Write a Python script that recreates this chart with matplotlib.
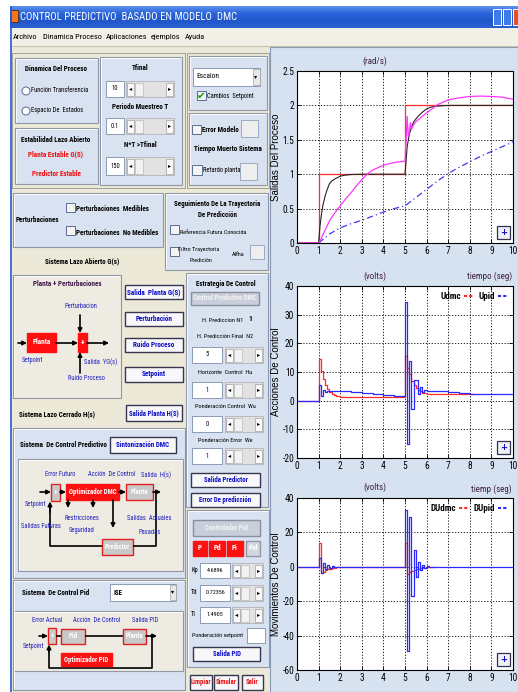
import os
import numpy as np
import matplotlib
matplotlib.use('Agg')
import matplotlib.pyplot as plt
from matplotlib.patches import Rectangle, Circle
from matplotlib.lines import Line2D
from matplotlib.colors import LinearSegmentedColormap
from matplotlib.font_manager import FontProperties, fontManager
from matplotlib.textpath import TextPath

plt.rcParams['axes.unicode_minus'] = False

# ---------------- data ----------------
x_ticks = [0, 1, 2, 3, 4, 5, 6, 7, 8, 9, 10]
y1_ticks = [0, 0.5, 1, 1.5, 2, 2.5]
y1_labels = ['0', '0.5', '1', '1.5', '2', '2.5']
y2_ticks = [-20, -10, 0, 10, 20, 30, 40]
y3_ticks = [-60, -40, -20, 0, 20, 40]

# plot 1: process outputs
t_ref = [0, 1, 1, 5, 5, 10]
y_ref = [0, 0, 1, 1, 2, 2]
t_dmc = [0, 1.0, 1.05, 1.1, 1.15, 1.2, 1.3, 1.4, 1.5, 1.6, 1.8, 2.0, 2.2, 2.5, 3.0,
         5.0, 5.05, 5.1, 5.2, 5.3, 5.4, 5.5, 5.6, 5.8, 6.0, 6.2, 6.5, 7.0, 10.0]
y_dmc = [0, 0, 0.2, 0.34, 0.45, 0.55, 0.68, 0.78, 0.86, 0.9, 0.94, 0.97, 0.985, 0.995, 1.0,
         1.0, 1.2, 1.4, 1.58, 1.68, 1.76, 1.8, 1.84, 1.9, 1.95, 1.975, 1.99, 2.0, 2.0]
t_pid = [0, 1.0, 1.1, 1.2, 1.35, 1.5, 1.75, 2.0, 2.25, 2.5, 2.75, 3.0, 3.25, 3.5, 4.0, 4.5,
         5.0, 5.05, 5.1, 5.15, 5.2, 5.25, 5.3, 5.4, 5.5, 5.75, 6.0, 6.5, 7.0, 7.5, 8.0,
         8.5, 9.0, 9.5, 10.0]
y_pid = [0, 0, 0.05, 0.12, 0.22, 0.32, 0.44, 0.54, 0.64, 0.73, 0.83, 0.92, 1.0, 1.06, 1.13,
         1.17, 1.19, 1.5, 1.84, 1.55, 1.6, 1.75, 1.65, 1.72, 1.76, 1.83, 1.89, 2.01, 2.08,
         2.11, 2.13, 2.135, 2.13, 2.12, 2.09]
t_ol = [1.0, 1.5, 2.0, 2.5, 3.0, 3.5, 4.0, 4.5, 5.0, 5.5, 6.0, 6.5, 7.0, 7.5, 8.0, 8.5,
        9.0, 9.5, 10.0]
y_ol = [0, 0.13, 0.22, 0.28, 0.33, 0.39, 0.45, 0.5, 0.54, 0.66, 0.78, 0.9, 1.01, 1.1,
        1.18, 1.26, 1.33, 1.4, 1.47]

# plot 2: control actions (stairs)
t_udmc = [0, 1.0, 1.1, 1.2, 1.3, 1.4, 1.5, 1.6, 1.7, 1.8, 2.0, 2.2, 5.0, 5.1, 5.2, 5.3,
          5.4, 5.5, 5.6, 5.7, 5.8, 6.0, 6.2, 8.2]
u_dmc = [0, 14.5, 10.5, 7.5, 5.5, 4.0, 3.0, 2.5, 2.0, 1.7, 1.4, 1.2, 15.5, 11.5, 9.3, 7.0,
         5.5, 4.5, 3.8, 3.2, 2.8, 2.5, 2.3, 2.3]
t_upid = [0, 1.0, 1.1, 1.2, 1.3, 1.4, 1.5, 1.6, 2.0, 2.5, 3.0, 3.5, 4.0, 4.5, 5.0, 5.1,
          5.2, 5.3, 5.4, 5.6, 5.7, 5.8, 5.9, 6.0, 6.5, 7.0, 7.5, 8.0, 8.5, 10.0]
u_pid = [0, 5.3, 1.8, 3.8, 3.0, 3.5, 3.2, 3.4, 3.2, 3.0, 2.6, 2.3, 1.9, 1.6, 34.5, -15.0,
         14.0, -3.0, 7.2, 2.5, 4.6, 3.0, 3.8, 3.5, 3.2, 2.9, 2.6, 2.4, 2.2, 2.2]

# plot 3: control moves (stairs)
t_dudmc = [0, 1.0, 1.1, 1.2, 1.3, 1.4, 1.5, 1.6, 1.7, 1.8, 2.0, 2.2, 5.0, 5.1, 5.2, 5.3,
           5.4, 5.5, 5.6, 5.7, 5.8, 6.0, 6.4]
du_dmc = [0, 14, -3.5, -2.8, -2.0, -1.5, -1.0, -0.8, -0.6, -0.4, -0.3, 0, 14, -4, -3,
          -2.3, -1.7, -1.3, -1.0, -0.7, -0.5, -0.3, 0]
t_dupid = [0, 1.0, 1.1, 1.2, 1.3, 1.4, 1.5, 1.6, 1.7, 1.8, 5.0, 5.1, 5.2, 5.3, 5.4, 5.5,
           5.6, 5.7, 5.8, 5.9, 6.0, 6.1, 6.2, 10.0]
du_pid = [0, 5, -3.5, 2.2, -1.2, 0.8, -0.5, 0.3, -0.2, 0, 33, -49, 29, -17, 10, -6, 3,
          -2, 1.2, -0.8, 0.5, -0.3, 0, 0]

menu_items = ['Archivo', 'Dinamica Proceso', 'Aplicaciones', 'ejemplos', 'Ayuda']


# ---------------- fonts (prefer a condensed sans face) ----------------
def pick_font(bold):
    order = ['Noto Sans ExtraCondensed', 'NotoSans-ExtraCondensed', 'Liberation Sans Narrow',
             'LiberationSansNarrow', 'Noto Sans Condensed', 'NotoSans-Condensed',
             'Roboto Condensed', 'RobotoCondensed', 'DejaVu Sans Condensed',
             'DejaVuSansCondensed', 'Condensed', 'Narrow']
    best = None
    for f in fontManager.ttflist:
        base = os.path.basename(f.fname)
        key = f.name + ' | ' + base + ' | ' + str(f.stretch)
        if 'Mono' in key or 'Serif' in key or 'CJK' in key or 'Italic' in base:
            continue
        if f.style != 'normal':
            continue
        w = f.weight if isinstance(f.weight, (int, float)) else (700 if 'bold' in str(f.weight) else 400)
        if bold and w != 700:
            continue
        if not bold and w != 400:
            continue
        if str(f.stretch) in ('condensed', 'extra-condensed', 'semi-condensed') and 'DejaVu' in f.name:
            key += ' DejaVu Sans Condensed'
        for i, k in enumerate(order):
            if k in key and 'SemiCondensed' not in key.replace(' ', ''):
                if best is None or i < best[0]:
                    best = (i, f.fname)
                break
    return best[1] if best else None


REG_FILE = pick_font(False)
BOLD_FILE = pick_font(True)


def fprop(bold=False, size=6):
    path = BOLD_FILE if bold else REG_FILE
    if path:
        return FontProperties(fname=path, size=size)
    return FontProperties(family='Liberation Sans', weight='bold' if bold else 'normal',
                          size=size)


def width_px(s, bold, size):
    tp = TextPath((0, 0), s, size=size, prop=fprop(bold, size))
    return tp.get_extents().width * 100 / 72


def fit(s, bold, px, maxsize):
    w = width_px(s, bold, maxsize)
    return min(maxsize, maxsize * px / w)


FB = fit('Dinamica Del Proceso', True, 62, 7.2) / 7.2
FR = fit('Función Transferencia', False, 57, 6.8) / 6.8
TICK_FS = fit('0.5', False, 11, 7.5)
MENU_FS = fit('Dinamica Proceso', False, 58, 8.5)

# ---------------- styles ----------------
W, H = 518, 692
WIN = '#ECE9D8'
PANEL = '#D8E2F0'
DIAG = '#EEEBE2'
PLOTBG = '#D6E2F0'
BTN_TXT = '#0A0AC8'
RED = '#FF1010'
GRAYBOX = '#C9C9C9'

fig = plt.figure(figsize=(W / 100, H / 100), dpi=100)
fig.patch.set_facecolor('white')
bg = fig.add_axes([0, 0, 1, 1])
bg.axis('off')


def rect(x0, y0, x1, y1, fc='none', ec='none', lw=0.8, z=1):
    bg.add_patch(Rectangle((x0, y0), x1 - x0, y1 - y0, facecolor=fc, edgecolor=ec,
                           linewidth=lw, zorder=z))


def T(x, y, s, size=6.8, color='black', bold=False, ha='left', va='center', z=5, exact=None):
    sz = exact if exact else size * (FB if bold else FR)
    bg.text(x, y, s, fontproperties=fprop(bold, sz), color=color, ha=ha, va=va, zorder=z)


def S(x, y, s, size=5, ha='center'):
    bg.text(x, y, s, fontsize=size, family='DejaVu Sans', ha=ha, va='center', zorder=5)


def line(xs, ys, color='black', lw=1.2, z=3):
    bg.plot(xs, ys, color=color, lw=lw, zorder=z, solid_capstyle='butt')


def arrow(x0, y0, x1, y1, lw=1.2):
    bg.annotate('', xy=(x1, y1), xytext=(x0, y0), zorder=4,
                arrowprops=dict(arrowstyle='-|>', color='black', lw=lw, mutation_scale=6,
                                shrinkA=0, shrinkB=0))


def panel(x0, y0, x1, y1, fc=PANEL):
    rect(x0, y0, x1, y1, fc=fc, ec='#9098A8', lw=0.8)
    line([x0 + 1, x1 - 1], [y0 + 1, y0 + 1], color='white', lw=0.6)
    line([x0 + 1, x0 + 1], [y0 + 1, y1 - 1], color='white', lw=0.6)


def button(x0, y0, x1, y1, s, color=BTN_TXT, fc='#F8F8FB', ec='#363650', size=6.8):
    rect(x0, y0, x1, y1, fc=fc, ec=ec, lw=1.0, z=2)
    T((x0 + x1) / 2, (y0 + y1) / 2, s, size=size, color=color, bold=True, ha='center')


def edit(x0, y0, x1, y1, s, size=6.8):
    rect(x0, y0, x1, y1, fc='white', ec='#8A9AB5', lw=0.7, z=2)
    T((x0 + x1) / 2, (y0 + y1) / 2, s, size=size, ha='center')


def slider(x0, y0, x1, y1):
    rect(x0, y0, x1, y1, fc='#E2E2E2', ec='#A8A8B0', lw=0.5, z=2)
    w = 7
    rect(x0 + 1, y0 + 1.5, x0 + 1 + w, y1 - 1.5, fc='#FAFAFA', ec='#A0A0A0', lw=0.5, z=2)
    rect(x1 - 1 - w, y0 + 1.5, x1 - 1, y1 - 1.5, fc='#FAFAFA', ec='#A0A0A0', lw=0.5, z=2)
    rect(x0 + 2 + w, y0 + 1.5, x0 + 2 + w + 8, y1 - 1.5, fc='#F2F2F2', ec='#B8B8B8', lw=0.5, z=2)
    S(x0 + 1 + w / 2, (y0 + y1) / 2, '\u25c2', size=4.5)
    S(x1 - 1 - w / 2, (y0 + y1) / 2, '\u25b8', size=4.5)


def check(x, y, s=8, checked=False):
    rect(x, y, x + s, y + s, fc='#F4F4F4', ec='#5A6E92', lw=0.7, z=2)
    if checked:
        bg.text(x + s / 2, y + s / 2, '\u2714', fontsize=7.5, family='DejaVu Sans',
                color='#10A010', ha='center', va='center', zorder=5)


def radio(x, y, r=4):
    bg.add_patch(Circle((x, y), r, facecolor='white', edgecolor='#5A6E92', lw=0.7, zorder=2))


def box(x0, y0, x1, y1, s, fc=RED, ec=RED, size=6.8):
    rect(x0, y0, x1, y1, fc=fc, ec=ec, lw=1.0, z=3)
    T((x0 + x1) / 2, (y0 + y1) / 2, s, size=size, color='white', bold=True, ha='center')


BLUE_T = '#2020C0'

# ---------------- window chrome ----------------
rect(10, 28, W, H, fc=WIN)
grad = np.linspace(0, 1, 24).reshape(-1, 1)
cm = LinearSegmentedColormap.from_list('xp', ['#5A8EEB', '#2A64DA', '#1F56CA', '#2A60D2'])
bg.imshow(grad, extent=[10, W, 28, 6], cmap=cm, aspect='auto', zorder=1)
rect(11, 10, 18, 22, fc='#F07820', ec='#402000', lw=0.5, z=2)
title_s = 'CONTROL PREDICTIVO  BASADO EN MODELO  DMC'
T(20, 17, title_s, color='white', exact=fit(title_s, False, 216, 9.5))
rect(493, 9, 501, 25, fc='#3D7BE8', ec='white', lw=0.7, z=2)
rect(503, 9, 511, 25, fc='#3D7BE8', ec='white', lw=0.7, z=2)
rect(513, 9, 518, 25, fc='#E0502A', ec='white', lw=0.7, z=2)
rect(10, 28, W, 46, fc='#F1EFE6')
line([10, W], [46, 46], color='#C8C4B0', lw=0.8)
for xm, s in zip([13, 43, 106, 151, 185], menu_items):
    T(xm, 37, s, exact=MENU_FS)
line([10.5, 10.5], [6, H], color='#2A5BD0', lw=1.2)

# right plot area
rect(270, 47, W, H, fc=PLOTBG, ec='#8898B8', lw=0.8)

# ---------------- top-left group ----------------
rect(12, 53, 185, 188, fc=WIN, ec='#A0A0A0', lw=0.7)
panel(15, 58, 98, 123)
T(56, 69, 'Dinamica Del Proceso', size=7.2, bold=True, ha='center')
radio(26, 91)
T(31, 91, 'Función Transferencia')
radio(26, 111)
T(31, 111, 'Espacio De  Estados')
panel(15, 128, 98, 184)
T(56, 140, 'Estabilidad Lazo Abierto', size=7.2, bold=True, ha='center')
T(56, 154, 'Planta Estable G(S)', size=7.2, bold=True, color='#F01010', ha='center')
T(56, 174, 'Predictor Estable', size=7.2, bold=True, color='#F01010', ha='center')
panel(100, 57, 182, 185)
T(140, 68, 'Tfinal', size=7.2, bold=True, ha='center')
edit(106, 81, 124, 97, '10')
slider(126, 81, 174, 97)
T(140, 107, 'Periodo Muestreo T', size=7.2, bold=True, ha='center')
edit(106, 118, 124, 134, '0.1')
slider(126, 118, 174, 134)
T(140, 145, 'N*T >Tfinal', size=7.2, bold=True, ha='center')
edit(106, 157, 124, 175, '150')
slider(126, 157, 174, 175)

rect(187, 53, 269, 188, fc=WIN, ec='#A0A0A0', lw=0.7)
panel(189, 56, 267, 110)
rect(193, 68, 260, 86, fc='white', ec='#8A9AB5', lw=0.7, z=2)
rect(253, 69, 259.5, 85, fc='#E8E8E8', ec='#A0A0A0', lw=0.5, z=2)
S(256, 77, '\u25be', size=4.5)
T(196, 77, 'Escalon', size=7.6)
check(197, 91, s=9, checked=True)
T(207, 97, 'Cambios  Setpoint')
panel(189, 113, 267, 185)
check(192, 125, s=9)
T(202, 130, 'Error Modelo', size=7.2, bold=True)
rect(241, 120, 258, 137, fc='#EEEEEE', ec='#9AAAC5', lw=0.7, z=2)
T(228, 149, 'Tiempo Muerto Sistema', size=7.2, bold=True, ha='center')
check(192, 165, s=10)
T(203, 171, 'Retardo planta')
rect(240, 163, 257, 180, fc='#EEEEEE', ec='#9AAAC5', lw=0.7, z=2)

# ---------------- second row ----------------
panel(13, 193, 163, 247)
T(16, 220, 'Perturbaciones', size=7.2, bold=True)
check(66, 203, s=9)
T(76, 209, 'Perturbaciones  Medibles', size=7.2, bold=True)
check(66, 226, s=9)
T(76, 233, 'Perturbaciones  No Medibles', size=7.2, bold=True)
panel(165, 193, 268, 270)
T(217, 204, 'Seguimiento De La Trayectoria', size=7.0, bold=True, ha='center')
T(217, 215, 'De Predicción', size=7.0, bold=True, ha='center')
check(170, 225, s=9)
T(180, 232, 'Referencia Futura Conocida', size=6.4)
check(170, 247, s=9)
T(199, 249, 'Filtro Trayectoria', size=6.4, ha='center')
T(201, 261, 'Predición', size=6.4, ha='center')
T(232, 255, 'Alfha', size=6.4)
rect(250, 245, 264, 259, fc='#EEEEEE', ec='#9AAAC5', lw=0.7, z=2)

T(82, 261, 'Sistema Lazo Abierto G(s)', size=7.2, bold=True, ha='center')

# Planta + Perturbaciones diagram
panel(13, 275, 121, 398, fc=DIAG)
T(67, 284, 'Planta + Perturbaciones', size=7.2, bold=True, color='#401848', ha='center')
T(81, 307, 'Perturbacion', color=BLUE_T, ha='center')
arrow(80, 315, 80, 333)
arrow(18, 343, 27, 343)
box(27, 333, 56, 352, 'Planta', size=7.2)
arrow(56, 343, 78, 343)
box(78, 333, 87, 352, '+', size=7.5)
arrow(87, 343, 109, 343)
arrow(80, 373, 80, 352)
T(22, 360, 'Setpoint', color=BLUE_T)
T(84, 362, 'Salida  YG(s)', color=BLUE_T)
T(86, 378, 'Ruido Proceso', color=BLUE_T, ha='center')

button(125, 285, 183, 299, 'Salida  Planta G(S)', size=7.2)
button(125, 312, 183, 326, 'Perturbación', size=7.2)
button(125, 338, 183, 352, 'Ruido Proceso', size=7.2)
button(125, 367, 183, 382, 'Setpoint', size=7.2)

# Estrategia de control
panel(186, 273, 268, 507)
T(226, 284, 'Estrategia De Control', size=7.0, bold=True, ha='center')
button(191, 292, 259, 305, 'Control Predictivo DMC', color='#F4F4F4', fc='#C9CFDA',
       ec='#8890A0', size=6.8)
T(223, 320, 'H. Prediccion N1', size=6.5, ha='center')
T(250, 319, '1', size=7.5, bold=True, ha='center')
T(225, 337, 'H. Predicción Final  N2', size=6.5, ha='center')
edit(192, 347, 222, 363, '5')
slider(225, 347, 263, 363)
T(225, 373, 'Horizonte  Control  Hu', size=6.5, ha='center')
edit(192, 382, 222, 398, '1')
slider(225, 382, 263, 398)
T(225, 407, 'Ponderación Control  Wu', size=6.5, ha='center')
edit(192, 416, 222, 432, '0')
slider(225, 416, 263, 432)
T(225, 440, 'Ponderación Error  We', size=6.5, ha='center')
edit(192, 448, 222, 464, '1')
slider(225, 448, 263, 464)
button(191, 473, 260, 487, 'Salida Predictor', size=6.8)
button(191, 493, 260, 507, 'Error De predicción', size=6.8)

# Lazo cerrado
T(19, 414, 'Sistema Lazo Cerrado H(s)', size=7.2, bold=True)
button(126, 405, 182, 421, 'Salida Planta H(S)', size=6.8)
panel(13, 428, 185, 578)
T(20, 445, 'Sistema  De Control Predictivo', size=7.2, bold=True)
button(110, 437, 176, 453, 'Sintonización DMC', size=7.0)
panel(18, 459, 183, 571, fc=DIAG)
T(60, 475, 'Error Futuro', color=BLUE_T, ha='center')
T(112, 475, 'Acción  De Control', color=BLUE_T, ha='center')
T(156, 475, 'Salida  H(s)', color=BLUE_T, ha='center')
arrow(40, 492, 51, 492)
box(51, 484, 60, 501, '+', fc=GRAYBOX, ec='#E02020', size=7)
arrow(60, 492, 66, 492)
box(66, 484, 119, 500, 'Optimizador DMC', size=6.8)
arrow(119, 492, 126, 492)
box(126, 484, 153, 500, 'Planta', fc=GRAYBOX, ec='#E02020', size=6.8)
arrow(153, 492, 161, 492)
T(25, 504, 'Setpoint', color=BLUE_T)
T(41, 526, 'Salidas Futuras', color=BLUE_T, ha='center')
T(82, 518, 'Restricciones', color=BLUE_T, ha='center')
T(82, 531, 'Seguridad', color=BLUE_T, ha='center')
T(149, 518, 'Salidas  Actuales', color=BLUE_T, ha='center')
T(150, 532, 'Pasadas', color=BLUE_T, ha='center')
arrow(68, 500, 68, 508)
arrow(93, 500, 93, 508)
arrow(113, 500, 113, 528)
line([50, 50, 102], [503, 546, 546])
arrow(50, 512, 50, 501.5)
box(102, 539, 133, 555, 'Predictor', fc=GRAYBOX, ec='#E02020', size=6.8)
line([133, 156, 156], [546, 546, 492])

# PID
panel(13, 580, 185, 690)
T(22, 593, 'Sistema  De Control Pid', size=7.2, bold=True)
rect(110, 584, 176, 601, fc='white', ec='#8A9AB5', lw=0.7, z=2)
rect(170, 585, 175.5, 600, fc='#E8E8E8', ec='#A0A0A0', lw=0.5, z=2)
S(173, 592, '\u25be', size=4.5)
T(113, 593, 'ISE', size=7.0, bold=True)
panel(13, 611, 183, 671, fc=DIAG)
T(47, 620, 'Error Actual', color=BLUE_T, ha='center')
T(97, 620, 'Acción  De Control', color=BLUE_T, ha='center')
T(145, 620, 'Salida PID', color=BLUE_T, ha='center')
arrow(39, 636, 48, 636)
box(48, 628, 56, 644, '+', fc=GRAYBOX, ec='#E02020', size=7)
line([56, 61], [636, 636])
box(61, 629, 85, 644, 'Pid', fc=GRAYBOX, ec='#E02020', size=6.8)
line([85, 123], [636, 636])
box(123, 629, 146, 644, 'Planta', fc=GRAYBOX, ec='#E02020', size=6.8)
arrow(146, 636, 157, 636)
line([152, 152, 49, 49], [636, 668, 668, 650])
arrow(49, 652, 49, 644.5)
T(23, 647, 'Setpoint', color=BLUE_T)
box(61, 653, 112, 666, 'Optimizador PID', size=6.8)

panel(187, 510, 269, 667)
button(193, 520, 260, 536, 'Controlador Pid', color='#F4F4F4', fc='#C9CFDA', ec='#8890A0',
       size=6.8)
box(193, 541, 207, 556, 'P', size=7.2)
box(209, 541, 225, 556, 'Pd', size=7.2)
box(227, 541, 243, 556, 'Pi', size=7.2)
box(246, 541, 260, 556, 'Pid', fc='#D2D6DE', ec='#9098A8', size=7.2)
T(191, 570, 'Kp')
edit(200, 563, 230, 578, '4.6896', size=6.3)
slider(232, 563, 263, 578)
T(191, 592, 'Td')
edit(200, 585, 230, 601, '0.72356', size=6.3)
slider(232, 585, 263, 601)
T(191, 614, 'Ti')
edit(200, 607, 230, 623, '1.4905', size=6.3)
slider(232, 607, 263, 623)
T(192, 636, 'Ponderación setpoint', size=6.3)
rect(247, 628, 265, 643, fc='white', ec='#8A9AB5', lw=0.7, z=2)
button(193, 647, 260, 661, 'Salida PID', size=6.8)
button(190, 675, 212, 690, 'Limpiar', color='#E81010', size=6.8)
button(214, 675, 238, 690, 'Simular', color='#E81010', size=6.8)
button(242, 675, 263, 690, 'Salir', color='#E81010', size=6.8)

bg.set_xlim(0, W)
bg.set_ylim(H, 0)


# ---------------- plots ----------------
def pax(x0, y0, x1, y1):
    return fig.add_axes([x0 / W, 1 - y1 / H, (x1 - x0) / W, (y1 - y0) / H])


def setup(ax, ylim, yticks, ylabel, ylabels=None):
    ax.set_facecolor('white')
    ax.set_xlim(0, 10)
    ax.set_ylim(*ylim)
    ax.set_xticks(x_ticks)
    ax.set_yticks(yticks)
    if ylabels is not None:
        ax.set_yticklabels(ylabels)
    ax.tick_params(direction='in', length=3, width=0.6, pad=2, top=True, right=True)
    for lab in ax.get_xticklabels() + ax.get_yticklabels():
        lab.set_fontproperties(fprop(False, TICK_FS))
    ax.grid(True, linestyle=(0, (1.5, 2)), color='black', linewidth=0.6)
    for sp in ax.spines.values():
        sp.set_linewidth(0.8)
    ax.set_ylabel(ylabel, fontsize=7, family='Liberation Sans')
    ax.yaxis.set_label_coords(-0.075, 0.5)
    ax.add_patch(Rectangle((0.925, 0.022), 0.062, 0.077, transform=ax.transAxes,
                           facecolor='#EEF0F6', edgecolor='#303050', lw=0.9, zorder=6))
    ax.text(0.956, 0.06, '+', transform=ax.transAxes, ha='center', va='center',
            fontsize=6, color='#1010C0', fontweight='bold', zorder=7)


def atext(ax, x, y, s, ha='center'):
    ax.text(x, y, s, transform=ax.transAxes, fontproperties=fprop(False, TICK_FS * 0.95),
            color='#402040', ha=ha, va='center')


leg_prop = fprop(True, TICK_FS * 0.95)

ax1 = pax(297, 71, 513, 243)
setup(ax1, (0, 2.5), y1_ticks, 'Salidas Del Proceso', y1_labels)
ax1.plot(t_ref, y_ref, color='#FF2A2A', lw=0.9)
ax1.plot(t_dmc, y_dmc, color='#252525', lw=0.8)
ax1.plot(t_ol, y_ol, color='#3A3AF0', lw=0.9, linestyle=(0, (5, 2.5, 1, 2.5)))
ax1.plot(t_pid, y_pid, color='#FF33FF', lw=0.9)
atext(ax1, 0.36, 1.055, '(rad/s)')

ax2 = pax(297, 286, 513, 458)
setup(ax2, (-20, 40), y2_ticks, 'Acciones De Control')
ax2.step(t_udmc, u_dmc, where='post', color='#FF2A2A', lw=0.9)
ax2.step(t_upid, u_pid, where='post', color='#2A2AFF', lw=0.9)
atext(ax2, 0.36, 1.058, '(volts)')
atext(ax2, 0.995, 1.058, 'tiempo (seg)', ha='right')
h_red = Line2D([], [], color='#FF2A2A', lw=1.5, linestyle=(0, (1.5, 1)))
h_blue = Line2D([], [], color='#2A2AFF', lw=1.5, linestyle=(0, (1.5, 1)))
ax2.legend([h_red, h_blue], ['Udmc', 'Upid'], loc='upper right', ncol=2, frameon=False,
           markerfirst=False, handlelength=1.0, handletextpad=0.3, columnspacing=0.6,
           prop=leg_prop, borderaxespad=0.3)

ax3 = pax(297, 498, 513, 670)
setup(ax3, (-60, 40), y3_ticks, 'Movimientos De Control')
ax3.step(t_dudmc, du_dmc, where='post', color='#FF2A2A', lw=0.9)
ax3.step(t_dupid, du_pid, where='post', color='#2A2AFF', lw=0.9)
atext(ax3, 0.36, 1.064, '(volts)')
atext(ax3, 0.995, 1.05, 'tiemp (seg)', ha='right')
ax3.legend([h_red, h_blue], ['DUdmc', 'DUpid'], loc='upper right', ncol=2, frameon=False,
           markerfirst=False, handlelength=1.0, handletextpad=0.3, columnspacing=0.6,
           prop=leg_prop, borderaxespad=0.3)

fig.savefig('out.png', dpi=100, facecolor=fig.get_facecolor())
